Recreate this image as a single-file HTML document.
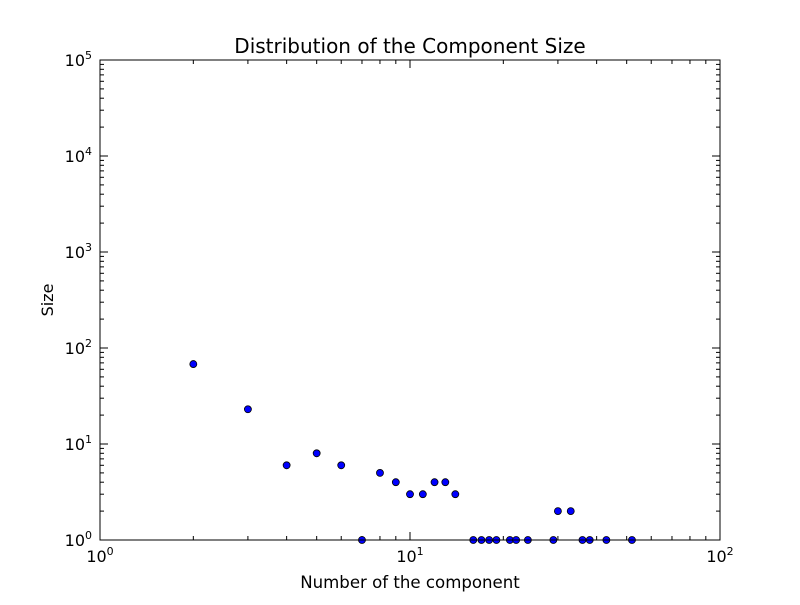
<!DOCTYPE html>
<html><head><meta charset="utf-8"><style>
body{margin:0;background:#fff;}
svg text{font-family:"DejaVu Sans","Liberation Sans",sans-serif;}
</style></head><body>
<svg id="chart" width="800" height="600" xmlns="http://www.w3.org/2000/svg">
<rect width="800" height="600" fill="#fff"/>
<text x="410" y="53" font-size="20" text-anchor="middle">Distribution of the Component Size</text>
<text x="410" y="588" font-size="16.6" text-anchor="middle">Number of the component</text>
<text x="53" y="300" font-size="16" text-anchor="middle" transform="rotate(-90 53 300)">Size</text>
<g id="ticks"></g>
<g id="points"></g>
<rect x="100" y="60" width="620" height="480" fill="none" stroke="#000" stroke-width="1"/>
</svg>
<script>
const xs=[2,3,4,5,6,7,8,9,10,11,12,13,14,16,17,18,19,21,22,24,29,30,33,36,38,43,52];
const ys=[68,23,6,8,6,1,5,4,3,3,4,4,3,1,1,1,1,1,1,1,1,2,2,1,1,1,1];
const xTickExp=[0,1,2];
const yTickExp=[0,1,2,3,4,5];
const L=100,R=720,T=60,B=540;
function sx(v){return L+(Math.log10(v)-0)/2*(R-L);}
function sy(v){return B-(Math.log10(v)-0)/5*(B-T);}
const NS="http://www.w3.org/2000/svg";
const tg=document.getElementById('ticks');
function line(x1,y1,x2,y2){const l=document.createElementNS(NS,'line');l.setAttribute('x1',x1);l.setAttribute('y1',y1);l.setAttribute('x2',x2);l.setAttribute('y2',y2);l.setAttribute('stroke','#000');


tg.appendChild(l);}
function lab(x,y,e,anchor){const t=document.createElementNS(NS,'text');t.setAttribute('x',x);t.setAttribute('y',y);t.setAttribute('font-size','16');t.setAttribute('text-anchor',anchor);


t.innerHTML='10<tspan font-size="11" dy="-7">'+e+'</tspan>';tg.appendChild(t);}
xTickExp.forEach((e,i)=>{const x=sx(Math.pow(10,e));line(x,B,x,B-8);line(x,T,x,T+8);lab(x,B+22,e,'middle');
 if(i<xTickExp.length-1)for(let m=2;m<10;m++){const xm=sx(m*Math.pow(10,e));line(xm,B,xm,B-4);line(xm,T,xm,T+4);}});
yTickExp.forEach((e,i)=>{const y=sy(Math.pow(10,e));line(L,y,L+8,y);line(R,y,R-8,y);lab(L-8,y+6,e,'end');
 if(i<yTickExp.length-1)for(let m=2;m<10;m++){const ym=sy(m*Math.pow(10,e));line(L,ym,L+4,ym);line(R,ym,R-4,ym);}});
const pg=document.getElementById('points');
xs.forEach((x,i)=>{const c=document.createElementNS(NS,'circle');c.setAttribute('cx',sx(x));c.setAttribute('cy',sy(ys[i]));c.setAttribute('r',3.5);c.setAttribute('fill','#0000ff');c.setAttribute('stroke','#000');c.setAttribute('stroke-width','0.8');


pg.appendChild(c);});
</script>
</body></html>
